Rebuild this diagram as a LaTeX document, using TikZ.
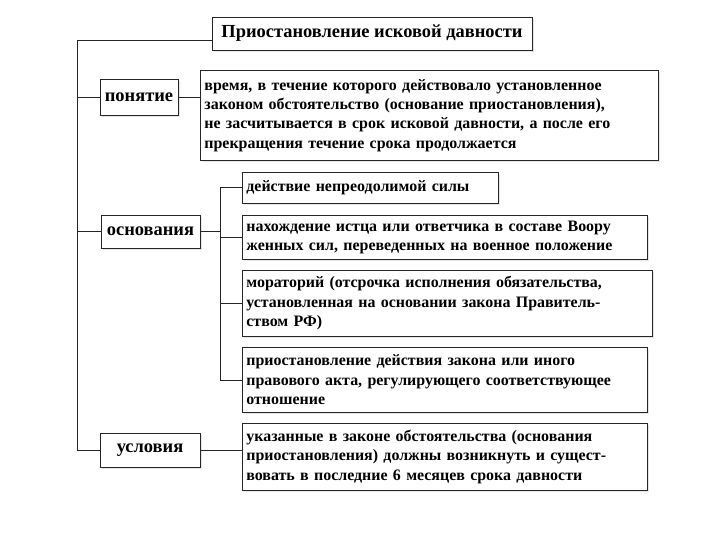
\documentclass[tikz,border=0pt]{standalone}
\usepackage{fontspec}
\setmainfont{Liberation Serif}
\usetikzlibrary{shadows}

\begin{document}
\begin{tikzpicture}[x=1bp,y=-1bp,
  box/.style={draw=black!85,fill=white,line width=0.8pt,inner sep=4bp,
    font=\bfseries\fontsize{16}{19.5}\selectfont,
    drop shadow={shadow xshift=2bp,shadow yshift=-2bp,opacity=0.2,fill=black!50}},
  label/.style={box,font=\bfseries\fontsize{18.5}{22}\selectfont},
  wide/.style={box,anchor=north west,align=left,text width=#1},
  link/.style={draw=black!85,line width=0.8pt}]
\useasboundingbox (0,0) rectangle (720,540);

\node[label,minimum width=320bp,minimum height=33bp] (title) at (372,33.5) {Приостановление исковой давности};

\node[label,minimum width=78bp,minimum height=36bp] (ponyatie) at (139,97.5) {понятие};
\node[wide=450bp,minimum height=90bp] (vremya) at (200,70) {время, в течение которого действовало установленное\\законом обстоятельство (основание приостановления),\\не засчитывается в срок исковой давности, а после его\\прекращения течение срока продолжается};

\node[label,minimum width=99bp,minimum height=33bp] (osnovaniya) at (150.5,231.5) {основания};
\node[wide=248bp,minimum height=31bp] (nepreod) at (242,172) {действие непреодолимой силы};
\node[wide=397bp,minimum height=44bp] (armiya) at (242,215) {нахождение истца или ответчика в составе Воору\\женных сил, переведенных на военное положение};
\node[wide=402bp,minimum height=66bp] (moratoriy) at (242,270) {мораторий (отсрочка исполнения обязательства,\\установленная на основании закона Правитель-\\ством РФ)};
\node[wide=397bp,minimum height=65bp] (zakon) at (242,347) {приостановление действия закона или иного\\правового акта, регулирующего соответствующее\\отношение};

\node[label,minimum width=100bp,minimum height=34bp] (usloviya) at (150,450) {условия};
\node[wide=397bp,minimum height=67bp] (srok) at (242,423) {указанные в законе обстоятельства (основания\\приостановления) должны возникнуть и сущест-\\вовать в последние 6 месяцев срока давности};

% left spine
\coordinate (spine) at (77,40);
\draw[link] (title.west |- spine) -- (spine) |- (usloviya.west);
\draw[link] (spine |- ponyatie) -- (ponyatie.west);
\draw[link] (spine |- osnovaniya) -- (osnovaniya.west);
\draw[link] (ponyatie.east) -- (ponyatie.east -| vremya.west);
\draw[link] (usloviya.east) -- (usloviya.east -| srok.west);

% branch of osnovaniya
\coordinate (branch) at (220,183);
\draw[link] (osnovaniya.east) -- (osnovaniya.east -| branch);
\draw[link] (branch |- nepreod) -- (branch |- zakon);
\foreach \n in {nepreod,armiya,moratoriy,zakon}
  \draw[link] (branch |- \n) -- (\n.west);
\end{tikzpicture}
\end{document}
